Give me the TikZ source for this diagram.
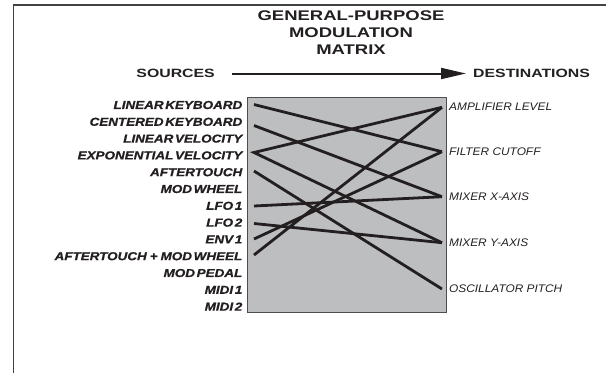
\documentclass[tikz,border=0pt]{standalone}
\usepackage{fontspec}
\usetikzlibrary{arrows.meta}
\newfontfamily\headfont{Liberation Sans}[FakeStretch=1.32]
\newfontfamily\srcfont{Liberation Sans}[FakeStretch=1.17, WordSpace=0.45, BoldItalicFeatures={FakeBold=1}]
\newfontfamily\dstfont{Liberation Sans}[FakeStretch=1.08]
\definecolor{boxgray}{HTML}{BDBEC0}
\definecolor{ink}{HTML}{231F20}
\tikzset{
  frameline/.style={draw=ink!85, line width=1.8pt},
  headtext/.style={font=\headfont\bfseries\fontsize{14}{17}\selectfont, text=ink, inner sep=0pt},
  sdtext/.style={font=\headfont\bfseries\fontsize{12}{14}\selectfont, text=ink, inner sep=0pt},
  srclabel/.style={font=\srcfont\bfseries\itshape\fontsize{11.5}{12}\selectfont, text=ink, anchor=east, inner sep=0pt},
  dstlabel/.style={font=\dstfont\itshape\fontsize{11}{12}\selectfont, text=ink, anchor=west, inner sep=0pt},
  matbox/.style={draw=ink!80, fill=boxgray, line width=1.3pt, anchor=north west, minimum width=199pt, minimum height=215pt, inner sep=0pt},
  patch/.style={draw=ink, line width=2.8pt},
  mainarrow/.style={draw=ink, line width=2pt, -{Triangle[length=25pt,width=11pt]}}
}
\begin{document}
\begin{tikzpicture}[x=1pt,y=-1pt]
\useasboundingbox (0,0) rectangle (606,373);
% frame
\coordinate (fbl) at (13.5,373);
\coordinate (ftr) at (606,4.8);
\draw[frameline] (fbl) |- (ftr);
% title
\node[headtext, align=center] (title) at (351,33) {GENERAL-PURPOSE\\MODULATION\\MATRIX};
\node[sdtext, anchor=east] (sources) at (215,73.5) {SOURCES};
\node[sdtext, anchor=west] (dests) at (473,73.5) {DESTINATIONS};
\coordinate (arrS) at (232,73.5);
\coordinate (arrE) at (466,73.5);
\draw[mainarrow] (arrS) -- (arrE);
% matrix box
\node[matbox] (mat) at (247,97) {};
% source labels
\foreach \t [count=\i] in {LINEAR KEYBOARD, CENTERED KEYBOARD, LINEAR VELOCITY, EXPONENTIAL VELOCITY, AFTERTOUCH, MOD WHEEL, LFO 1, LFO 2, ENV 1, {AFTERTOUCH\hspace{3pt}+\hspace{3pt}MOD WHEEL}, MOD PEDAL, MIDI 1, MIDI 2}
  \node[srclabel] (s\i) at (242.5,{105+(\i-1)*16.8}) {\t};
% destination labels
\node[dstlabel] (d1) at (449,107) {AMPLIFIER LEVEL};
\node[dstlabel] (d2) at (449,152) {FILTER CUTOFF};
\node[dstlabel] (d3) at (449,197) {MIXER X-AXIS};
\node[dstlabel] (d4) at (449,243) {MIXER Y-AXIS};
\node[dstlabel] (d5) at (449,289) {OSCILLATOR PITCH};
% connector endpoints
\coordinate (a1) at (254,104.5);
\coordinate (a2) at (254,125.5);
\coordinate (a4) at (254,152.5);
\coordinate (a5) at (254,171);
\coordinate (a7) at (254,206);
\coordinate (a8) at (254,223.5);
\coordinate (a9) at (254,239);
\coordinate (a10) at (254,255);
\coordinate (b1) at (442,107.3);
\coordinate (b2) at (442,151.7);
\coordinate (b3) at (442,196.7);
\coordinate (b4) at (442,242.7);
\coordinate (b5) at (442,289);
% connectors
\draw[patch] (a1) -- (b2);
\draw[patch] (a2) -- (b3);
\draw[patch] (b1) -- (a4) -- (b4);
\draw[patch] (a5) -- (b5);
\draw[patch] (a7) -- (b3);
\draw[patch] (a8) -- (b4);
\draw[patch] (a9) -- (b2);
\draw[patch] (a10) -- (b1);
\end{tikzpicture}
\end{document}
